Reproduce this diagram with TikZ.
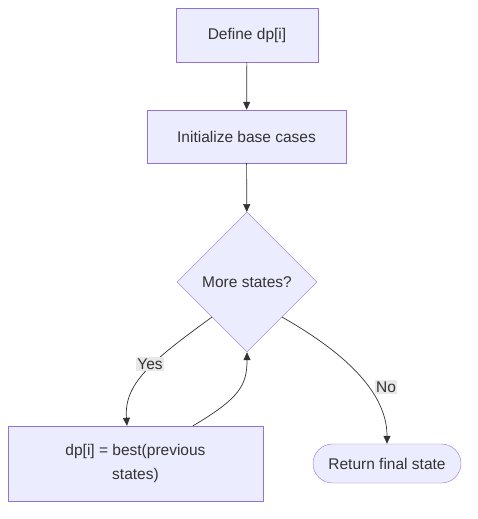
\documentclass[tikz,border=0pt]{standalone}
\usepackage{fontspec}
\setmainfont{Liberation Sans}
\usetikzlibrary{shapes.geometric,arrows.meta}
\definecolor{boxfill}{HTML}{ECECFF}
\definecolor{boxline}{HTML}{9370DB}
\definecolor{edgeclr}{HTML}{333333}
\definecolor{lblfill}{HTML}{E8E8E8}
\tikzset{
	proc/.style={draw=boxline,fill=boxfill,text=edgeclr,rectangle,inner sep=0pt},
	decide/.style={draw=boxline,fill=boxfill,text=edgeclr,diamond,aspect=1,inner sep=0pt,minimum width=140pt,minimum height=140pt},
	term/.style={draw=boxline,fill=boxfill,text=edgeclr,rectangle,rounded corners=19.5pt,inner sep=0pt},
	flow/.style={draw=edgeclr,line width=0.7pt,-{Triangle[length=8pt,width=7pt]}},
	lbl/.style={fill=lblfill,text=edgeclr,inner sep=1.5pt}
}
\begin{document}
\begin{tikzpicture}[x=1pt,y=-1pt,font=\fontsize{15.5}{24}\selectfont]
		\useasboundingbox (0,0) rectangle (477,519);
		% nodes
		\node[proc,minimum width=142pt,minimum height=54pt] (def) at (247,35) {Define dp[i]};
		\node[proc,minimum width=199pt,minimum height=53pt] (init) at (246.5,136.5) {Initialize base cases};
		\node[decide] (more) at (247,282) {More states?};
		\node[proc,minimum width=255pt,minimum height=75pt,align=center] (upd) at (135.5,463.5) {dp[i] = best(previous\\states)};
		\node[term,minimum width=148pt,minimum height=39pt] (ret) at (387,463.5) {Return final state};
		
		% edges
		\draw[flow] (def) -- (init);
		\draw[flow] (init) -- (more);
		\draw[flow] (more.south west) .. controls (150,362) and (124,384) .. ([xshift=-8.5pt]upd.north);
		\draw[flow] ([xshift=57.5pt]upd.north) .. controls (240,398) and (247,385) .. (more.south);
		\draw[flow] (more.south east) .. controls (340,350) and (387,390) .. ([xshift=0pt]ret.north);
		
		% labels
		\node[lbl] (yes) at (150,364) {Yes};
		\node[lbl] (no) at (386,387) {No};
\end{tikzpicture}
\end{document}
